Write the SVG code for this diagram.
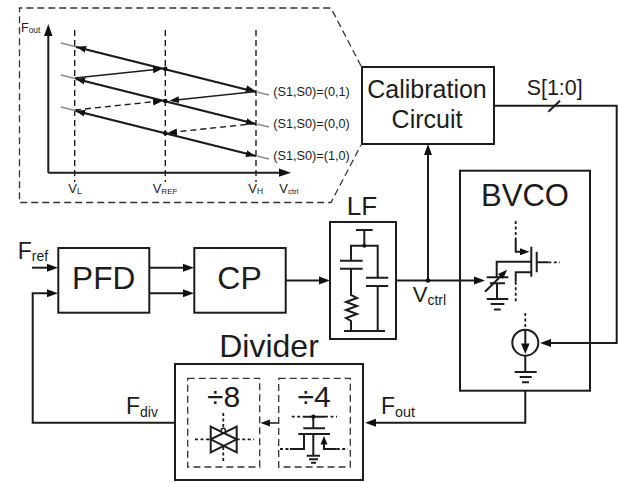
<svg xmlns="http://www.w3.org/2000/svg" width="618" height="482" viewBox="0 0 618 482">
<style>
text{font-family:"Liberation Sans",Arial,sans-serif;fill:#1c1c1c}
.b{fill:#fff;stroke:#1c1c1c;stroke-width:2}
.w{fill:none;stroke:#1c1c1c;stroke-width:2}
.t{fill:none;stroke:#1c1c1c;stroke-width:1.5}
.d{fill:none;stroke:#333;stroke-width:1.3;stroke-dasharray:7 4}
.s{fill:none;stroke:#1c1c1c;stroke-width:1.8;stroke-dasharray:3 2.5}
.g{fill:none;stroke:#8c8c8c;stroke-width:1.6}
.dd{fill:none;stroke:#1c1c1c;stroke-width:1.4;stroke-dasharray:6 4}
.a{marker-end:url(#big)}
.m{marker-end:url(#small)}
</style>
<defs>
<marker id="big" markerUnits="userSpaceOnUse" markerWidth="12" markerHeight="10" refX="7" refY="5" orient="auto"><path d="M0 1L11 5L0 9Z" fill="#111"/></marker>
<marker id="small" markerUnits="userSpaceOnUse" markerWidth="10" markerHeight="8" refX="5" refY="4" orient="auto"><path d="M0 0.5L9.5 4L0 7.5Z" fill="#111"/></marker>
</defs>
<rect width="618" height="482" fill="#fff"/>

<g id="inset">
<path class="d" d="M361 66L331 8H19.5V202.5H331L361 145"/>
<path class="w" d="M48.3 172.7V32M48.3 172.7H284"/>
<path d="M48.3 24L52.5 36H44ZM291 172.7L279 168.6V176.8Z" fill="#111"/>
<path class="dd" d="M74.7 30V182M165.3 30V182M256 30V182"/>
<path class="g" d="M61 43L269 95M61 75L269 127M61 107L269 159"/>
<path class="w" d="M76 47L256 92M76 79L256 124M76 111L256 156"/>
<g fill="none">
<path class="t m" d="M75 78L158 69.2"/>
<path class="t m" d="M256 91.5L174 100.2"/>
<path class="dd" d="M75 110L165 100.5"/>
<path class="dd" d="M256 123.5L165 133"/>
<path class="m" d="M92 51L81 47.9"/>
<path class="m" d="M92 83L80 79.9"/>
<path class="m" d="M92 115L80 112"/>
<path class="m" d="M240 87L251 89.8"/>
<path class="m" d="M240 120L251 122.8"/>
<path class="m" d="M240 152L251 154.8"/>
<path class="m" d="M150 102.4L158 101.5"/>
<path class="m" d="M182 131.6L172 132.6"/>
</g>
<circle cx="165.3" cy="68.7" r="2.2" fill="#111"/><circle cx="165.3" cy="101" r="2.2" fill="#111"/><circle cx="165.3" cy="133.3" r="2.2" fill="#111"/>
<text x="21" y="32" font-size="12.5">F<tspan font-size="8.5" dy="0.5">out</tspan></text>
<text x="68.3" y="193.3" font-size="13">V<tspan font-size="8.5" dy="0.7">L</tspan></text>
<text x="152.7" y="193.3" font-size="13">V<tspan font-size="8" dy="0.7">REF</tspan></text>
<text x="248.3" y="193.3" font-size="13">V<tspan font-size="8.5" dy="0.7">H</tspan></text>
<text x="279.3" y="193.3" font-size="13">V<tspan font-size="8" dy="0.7">ctrl</tspan></text>
<text x="273.3" y="95.7" font-size="12.7">(S1,S0)=(0,1)</text>
<text x="273.3" y="127.8" font-size="12.7">(S1,S0)=(0,0)</text>
<text x="273.3" y="160" font-size="12.7">(S1,S0)=(1,0)</text>
</g>

<g id="calibration">
<rect class="b" x="362" y="67" width="132" height="77"/>
<text x="427" y="97.7" font-size="25" text-anchor="middle">Calibration</text>
<text x="427" y="127.7" font-size="25" text-anchor="middle">Circuit</text>
</g>

<g id="pfd">
<rect class="b" x="58.3" y="248" width="91" height="64.7"/>
<text x="103.7" y="289.3" font-size="31.6" text-anchor="middle">PFD</text>
</g>

<g id="cp">
<rect class="b" x="194.3" y="248" width="91.4" height="64.7"/>
<text x="239.5" y="289.3" font-size="32" text-anchor="middle">CP</text>
</g>

<g id="lf">
<text x="362" y="215" font-size="26" text-anchor="middle">LF</text>
<rect class="b" x="330" y="222" width="66" height="117"/>
<path class="w" d="M356 230H372.7M364.3 230V245.7M351 260.7V245.7H377.7V277.7M340 260.7H362.7M340 268.7H362.7M351 268.7V295L357 298L346 302L357 306L346 310L357 314L346 318L351 321V331M344 331H385M366 277.7H388.3M366 286H388.3M377.7 286V331"/>
<circle cx="364.3" cy="245.7" r="2" fill="#111"/>
</g>

<g id="bvco">
<rect class="b" x="460" y="170.7" width="130" height="220"/>
<text x="525" y="206" font-size="31" text-anchor="middle">BVCO</text>
<path class="s" d="M515.7 221V239"/>
<path class="w m" d="M515.7 239V251.7H525"/>
<path class="w" d="M496.7 277V261.7H531.3M531.3 246.7V276.7M536.7 251.7V272.3M536.7 262.3H548.3M531.3 272.3H515.7V281.7M486.7 277.3H508.3M490 283.3H505M497 283.3V299M486.7 299H508.3M490.7 304H504.3M494 309.5H500.7"/>
<path class="s" d="M548.3 262.3H560M515.7 281.7V302"/>
<path class="w m" d="M485 291.7L504 273"/>
<circle class="w" cx="525.3" cy="342.7" r="13"/>
<path class="s" d="M525.3 313V329"/>
<path class="w" d="M525.3 330V346M525.3 356V372M514.7 372H536.7M519.7 377H531.7M522 382.3H529"/>
<path d="M525.3 354L521 343.5H529.6Z" fill="#111"/>
</g>

<g id="divider">
<text x="269" y="357.3" font-size="32" text-anchor="middle">Divider</text>
<rect class="b" x="175" y="364" width="188" height="116"/>
<rect class="d" x="187.7" y="378.3" width="72" height="88.7"/>
<rect class="d" x="278.7" y="378.3" width="71.6" height="88.7"/>
<text x="223.7" y="407.3" font-size="30" text-anchor="middle">÷8</text>
<text x="314" y="407.3" font-size="30" text-anchor="middle">÷4</text>
<path class="t m" d="M278.7 423H265"/>
<path class="w" d="M210.7 426.7V452.3L236.7 439.3L210.7 426.7ZM236.7 426.7V452.3L210.7 439.3L236.7 426.7Z"/>
<circle cx="223.3" cy="430.5" r="2.2" fill="#fff" stroke="#1c1c1c" stroke-width="1.4"/>
<path class="s" d="M223.3 413V428M223.3 447V462M195 439.3H210.7M236.7 439.3H254"/>
<path class="s" d="M291.7 416.7H303M325 416.7H337"/>
<path class="w" d="M303 416.7H325M313.3 416.7V428.3M303.3 428.3H325M298.3 434H330M304 434V449H290M324 440V449H336.7M313.3 434V455.7M306.7 455.7H320M309 459.3H318M311 462.7H316"/>
<circle cx="313.3" cy="416.7" r="2.1" fill="#111"/>
<path d="M324 436L327.5 444.5H320.5Z" fill="#111"/>
<path class="s" d="M280 449H290M336.7 449H348"/>
</g>

<g id="connectors">
<path class="w a" d="M32 267.7H54"/>
<path class="w a" d="M175 422.7H32.7V293.3H54"/>
<path class="w a" d="M149 267.7H190"/>
<path class="w a" d="M149 293.3H190"/>
<path class="w a" d="M286 280.5H326"/>
<path class="w a" d="M396 280.5H481"/>
<path class="w a" d="M428 280.5V148"/>
<path class="w a" d="M494 105.7H616.7V343H544"/>
<path class="w" d="M548.3 111.7L560 100.7"/>
<path class="w a" d="M525.3 391V422.7H369"/>
<circle cx="428" cy="280.5" r="2.3" fill="#111"/>
<text x="526.7" y="95" font-size="21.4">S[1:0]</text>
<text x="412.7" y="302.3" font-size="22">V<tspan font-size="14" dy="2.7">ctrl</tspan></text>
<text x="17.7" y="259" font-size="23">F<tspan font-size="14" dy="2">ref</tspan></text>
<text x="126" y="414" font-size="23">F<tspan font-size="14" dy="2.7">div</tspan></text>
<text x="381" y="414" font-size="23">F<tspan font-size="14.4" dy="3">out</tspan></text>
</g>
</svg>
